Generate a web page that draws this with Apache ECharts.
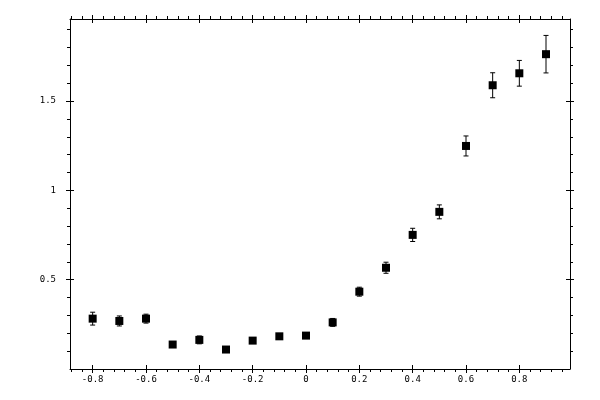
<!DOCTYPE html>
<html>
<head>
<meta charset="utf-8">
<script src="https://cdn.jsdelivr.net/npm/echarts@6/dist/echarts.min.js"></script>
<style>html,body{margin:0;padding:0;background:#fff}#c{width:600px;height:400px}</style>
</head>
<body>
<div id="c"></div>
<script>
const xs = [-0.8,-0.7,-0.6,-0.5,-0.4,-0.3,-0.2,-0.1,0,0.1,0.2,0.3,0.4,0.5,0.6,0.7,0.8,0.9];
const ys = [0.282,0.269,0.282,0.137,0.163,0.109,0.159,0.183,0.187,0.261,0.433,0.567,0.751,0.880,1.249,1.589,1.656,1.763];
const errs = [0.036,0.028,0.025,0.012,0.022,0.012,0.015,0.015,0.015,0.022,0.025,0.031,0.037,0.039,0.056,0.070,0.072,0.105];
const xMajorTicks = [-0.8,-0.6,-0.4,-0.2,0,0.2,0.4,0.6,0.8];
const xMinorTicks = [-0.88,-0.84,-0.76,-0.72,-0.68,-0.64,-0.56,-0.52,-0.48,-0.44,-0.36,-0.32,-0.28,-0.24,-0.16,-0.12,-0.08,-0.04,0.04,0.08,0.12,0.16,0.24,0.28,0.32,0.36,0.44,0.48,0.52,0.56,0.64,0.68,0.72,0.76,0.84,0.88,0.92,0.96];
const yMajorTicks = [0.5,1,1.5];
const yMinorTicks = [0.1,0.2,0.3,0.4,0.6,0.7,0.8,0.9,1.1,1.2,1.3,1.4,1.6,1.7,1.8,1.9];

const X_MIN = -0.885, X_MAX = 0.99, Y_MIN = 0, Y_MAX = 1.96;
const fmt = v => String(Math.round(v * 10) / 10);
const labelFont = {color:'#000', fontFamily:'DejaVu Sans Mono', fontSize:9};

function mkAxis(kind, pos, opts) {
  const isX = kind === 'x';
  return {
    type:'value', position:pos,
    min: isX ? X_MIN : Y_MIN, max: isX ? X_MAX : Y_MAX,
    silent:true,
    axisLine:{show:opts.line, onZero:false, lineStyle:{color:'#000', width:1}},
    axisTick:{show:true, inside:opts.inside, length:opts.len, customValues:opts.ticks, lineStyle:{color:'#000', width:1}},
    axisLabel: opts.labels ? Object.assign({show:true, customValues:opts.ticks, formatter:fmt, margin: isX ? 6 : 14}, labelFont) : {show:false},
    splitLine:{show:false}, minorTick:{show:false}, minorSplitLine:{show:false}
  };
}

const xAxes = [
  mkAxis('x','bottom',{line:true, inside:false, len:4, ticks:xMajorTicks, labels:true}),
  mkAxis('x','bottom',{line:false, inside:true, len:4, ticks:xMajorTicks}),
  mkAxis('x','bottom',{line:false, inside:false, len:3, ticks:xMinorTicks}),
  mkAxis('x','top',{line:true, inside:false, len:4, ticks:xMajorTicks}),
  mkAxis('x','top',{line:false, inside:true, len:4, ticks:xMajorTicks}),
  mkAxis('x','top',{line:false, inside:false, len:3, ticks:xMinorTicks})
];
const yAxes = [
  mkAxis('y','left',{line:true, inside:false, len:4, ticks:yMajorTicks, labels:true}),
  mkAxis('y','left',{line:false, inside:true, len:4, ticks:yMajorTicks}),
  mkAxis('y','left',{line:false, inside:false, len:3, ticks:yMinorTicks}),
  mkAxis('y','right',{line:true, inside:false, len:4, ticks:yMajorTicks}),
  mkAxis('y','right',{line:false, inside:true, len:4, ticks:yMajorTicks}),
  mkAxis('y','right',{line:false, inside:false, len:3, ticks:yMinorTicks})
];

const pts = xs.map((x, i) => [x, ys[i]]);
const errData = xs.map((x, i) => [x, ys[i], errs[i]]);

const chart = echarts.init(document.getElementById('c'), null, {renderer:'canvas'});
chart.setOption({
  animation:false,
  backgroundColor:'#fff',
  grid:{left:70, right:30, top:19, bottom:31, containLabel:false},
  xAxis:xAxes,
  yAxis:yAxes,
  series:[
    {
      type:'custom', xAxisIndex:0, yAxisIndex:0, silent:true,
      data:errData, encode:{x:0, y:1},
      renderItem:function(params, api){
        const x = api.value(0), y = api.value(1), e = api.value(2);
        const t = api.coord([x, y + e]), b = api.coord([x, y - e]);
        const hw = 2.5;
        const st = {stroke:'#000', lineWidth:1};
        return {type:'group', children:[
          {type:'line', shape:{x1:t[0], y1:t[1], x2:b[0], y2:b[1]}, style:st},
          {type:'line', shape:{x1:t[0]-hw, y1:t[1], x2:t[0]+hw, y2:t[1]}, style:st},
          {type:'line', shape:{x1:b[0]-hw, y1:b[1], x2:b[0]+hw, y2:b[1]}, style:st}
        ]};
      }
    },
    {
      type:'scatter', xAxisIndex:0, yAxisIndex:0, silent:true,
      symbol:'rect', symbolSize:8,
      itemStyle:{color:'#000', opacity:1},
      data:pts
    }
  ]
});
</script>
</body>
</html>
